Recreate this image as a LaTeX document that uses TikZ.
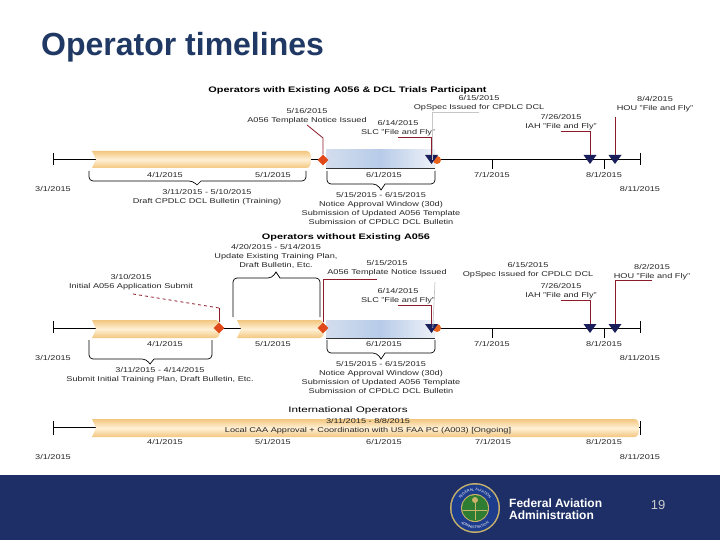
\documentclass[tikz,border=0pt]{standalone}
\usepackage{fontspec}
\setmainfont{Liberation Sans}
\usetikzlibrary{shapes.geometric,decorations.text}
\definecolor{navyband}{HTML}{1D2F66}
\definecolor{titleblue}{HTML}{1F3864}
\definecolor{tanedge}{HTML}{F2C67E}
\definecolor{tanmid}{HTML}{FFF1D6}
\definecolor{bluel}{HTML}{D3DEEE}
\definecolor{bluem}{HTML}{B7CBE8}
\definecolor{bluer}{HTML}{EEF2F8}
\definecolor{connred}{HTML}{8B1A2B}
\definecolor{trinavy}{HTML}{1A1F5C}
\definecolor{orangered}{HTML}{E2491A}
\definecolor{orangec}{HTML}{E8641E}
\definecolor{sealgold}{HTML}{C9B26A}
\definecolor{sealblue}{HTML}{1E3C8C}
\definecolor{sealgreen}{HTML}{2E7D32}
\newcommand{\sx}[1]{\scalebox{1.31}[1]{#1}}
\newcommand{\sxb}[1]{\scalebox{1.36}[1]{#1}}
% gold bar: x1 x2 ytop ybot
\newcommand{\goldbar}[4]{%
  \path[top color=tanedge,bottom color=tanedge,middle color=tanmid]
    (#1,#3) -- (#2-5,#3) .. controls (#2-1,#3) and (#2,#3+3) .. (#2,{(#3+#4)/2})
    .. controls (#2,#4-3) and (#2-1,#4) .. (#2-5,#4) -- (#1,#4)
    -- (#1+4,{(#3+#4)/2}) -- cycle;}
% blue bar: x1 x2 ytop ybot
\newcommand{\bluebar}[4]{%
  \path[left color=bluel,right color=bluer,middle color=bluem]
    (#1,#3) rectangle (#2,#4);
  \draw[black!80,line width=0.7pt] (#1,#4) -- (#2,#4);}
% brace: x1 x2 yfoot yspine xmid ytip
\newcommand{\curly}[6]{%
  \draw[bracel] (#1,#3) -- (#1,#4) -- (#5-4,#4) [sharp corners] -- (#5,#6) -- (#5+4,#4) [rounded corners=4pt] -- (#2,#4) -- (#2,#3);}
% down-pointing milestone: name x ytop
\newcommand{\downtri}[3]{%
  \coordinate (#1) at (#2,#3);
  \fill[trinavy] (#2-6.5,#3) -- (#2+6.5,#3) -- (#2,#3+9) -- cycle;}
\tikzset{
  lab/.style={font=\fontsize{7}{9}\selectfont,inner sep=0.5pt,align=center,text=black!85},
  head/.style={font=\fontsize{8}{9}\selectfont\bfseries,inner sep=0pt,text=black},
  axisline/.style={black,line width=1pt},
  axistick/.style={black,line width=0.8pt},
  conn/.style={connred,line width=0.8pt},
  connpale/.style={gray!45,line width=0.7pt},
  bracel/.style={black,line width=0.7pt,rounded corners=4pt},
  miled/.style={diamond,fill=orangered,minimum width=11pt,minimum height=11pt,inner sep=0pt},
  milec/.style={circle,fill=orangec,minimum size=8pt,inner sep=0pt},
}
\begin{document}
\begin{tikzpicture}[x=1pt,y=-1pt]
\useasboundingbox (0,0) rectangle (720,540);
\fill[white] (0,0) rectangle (720,540);
\node[anchor=base west,inner sep=0pt,text=titleblue,font=\fontsize{32}{34}\selectfont\bfseries] (slidetitle) at (41,56) {Operator timelines};

%% ---------- Timeline 1
\node[head] (h1) at (347.5,90) {\sxb{Operators with Existing A056 \& DCL Trials Participant}};
\coordinate (a1l) at (53,160); \coordinate (a1r) at (640,160);
\draw[axisline] (a1l) -- (a1r);
\draw[axistick] (53,153) -- (53,165);
\draw[axistick] (640,153) -- (640,165);
\draw[axistick] (492,160) -- (492,169);
\draw[axistick] (604,160) -- (604,169);
\goldbar{92}{311}{151}{168}
\bluebar{326}{435}{150}{168}
\curly{89}{306}{171}{181}{197}{185}
\curly{327}{435}{171}{184}{381}{190}
\node[lab] (d1a) at (165,174.5) {\sx{4/1/2015}};
\node[lab] (d1b) at (273,174.5) {\sx{5/1/2015}};
\node[lab] (d1c) at (384,174.5) {\sx{6/1/2015}};
\node[lab] (d1d) at (492,174.5) {\sx{7/1/2015}};
\node[lab] (d1e) at (604,174.5) {\sx{8/1/2015}};
\node[lab] (d1s) at (53,188.5) {\sx{3/1/2015}};
\node[lab] (d1f) at (640,188.5) {\sx{8/11/2015}};
\node[lab] (b1a) at (207,197) {\sx{3/11/2015 - 5/10/2015}\\\sx{Draft CPDLC DCL Bulletin (Training)}};
\node[lab] (b1b) at (381,208.5) {\sx{5/15/2015 - 6/15/2015}\\\sx{Notice Approval Window (30d)}\\\sx{Submission of Updated A056 Template}\\\sx{Submission of CPDLC DCL Bulletin}};
\node[lab] (n1a) at (307,116.5) {\sx{5/16/2015}\\\sx{A056 Template Notice Issued}};
\node[lab] (n1b) at (398,128.5) {\sx{6/14/2015}\\\sx{SLC "File and Fly"}};
\node[lab] (n1c) at (479,103.5) {\sx{6/15/2015}\\\sx{OpSpec Issued for CPDLC DCL}};
\node[lab] (n1d) at (561,122.5) {\sx{7/26/2015}\\\sx{IAH "File and Fly"}};
\node[lab] (n1e) at (655,104.5) {\sx{8/4/2015}\\\sx{HOU "File and Fly"}};
\node[milec] (m1o) at (437,160) {};
\downtri{m1s}{431.5}{155}
\downtri{m1i}{590}{155}
\downtri{m1h}{615}{155}
\node[miled] (m1a) at (323,160) {};
\coordinate (k1a) at (323,138);
\draw[conn] (n1a.south) -- (k1a) -- (m1a);
\draw[conn] (n1b.south) -| (m1s);
\draw[connpale] (n1c.south) -| (m1o.west);
\draw[conn] (n1d.south) -| (m1i);
\coordinate (c1h) at (615,117);
\draw[conn] (c1h) -- (m1h);

%% ---------- Timeline 2
\node[head] (h2) at (346,237) {\sxb{Operators without Existing A056}};
\coordinate (a2l) at (53,328); \coordinate (a2r) at (640,328);
\draw[axisline] (a2l) -- (a2r);
\draw[axistick] (53,321) -- (53,333);
\draw[axistick] (640,321) -- (640,333);
\draw[axistick] (492,328) -- (492,338);
\draw[axistick] (604,328) -- (604,338);
\goldbar{92}{220}{320}{338}
\goldbar{237}{324}{320}{338}
\bluebar{326}{435}{320}{338}
\curly{89}{212}{340}{359}{150}{364}
\curly{233}{320}{317}{278}{276}{272}
\curly{327}{435}{340}{353}{381}{359}
\node[lab] (d2a) at (165,343.5) {\sx{4/1/2015}};
\node[lab] (d2b) at (273,343.5) {\sx{5/1/2015}};
\node[lab] (d2c) at (384,343.5) {\sx{6/1/2015}};
\node[lab] (d2d) at (492,343.5) {\sx{7/1/2015}};
\node[lab] (d2e) at (604,343.5) {\sx{8/1/2015}};
\node[lab] (d2s) at (53,357.5) {\sx{3/1/2015}};
\node[lab] (d2f) at (640,357.5) {\sx{8/11/2015}};
\node[lab] (b2a) at (160,375.5) {\sx{3/11/2015 - 4/14/2015}\\\sx{Submit Initial Training Plan, Draft Bulletin, Etc.}};
\node[lab] (b2c) at (276,256.5) {\sx{4/20/2015 - 5/14/2015}\\\sx{Update Existing Training Plan,}\\\sx{Draft Bulletin, Etc.}};
\node[lab] (b2b) at (381,377.5) {\sx{5/15/2015 - 6/15/2015}\\\sx{Notice Approval Window (30d)}\\\sx{Submission of Updated A056 Template}\\\sx{Submission of CPDLC DCL Bulletin}};
\node[lab] (n2z) at (131,282.5) {\sx{3/10/2015}\\\sx{Initial A056 Application Submit}};
\node[lab] (n2a) at (387,268) {\sx{5/15/2015}\\\sx{A056 Template Notice Issued}};
\node[lab] (n2b) at (398,296.5) {\sx{6/14/2015}\\\sx{SLC "File and Fly"}};
\node[lab] (n2c) at (528,270.5) {\sx{6/15/2015}\\\sx{OpSpec Issued for CPDLC DCL}};
\node[lab] (n2d) at (561,291.5) {\sx{7/26/2015}\\\sx{IAH "File and Fly"}};
\node[lab] (n2e) at (652,272) {\sx{8/2/2015}\\\sx{HOU "File and Fly"}};
\node[milec] (m2o) at (437,328) {};
\downtri{m2s}{431.5}{324}
\downtri{m2i}{590}{324}
\downtri{m2h}{615}{324}
\node[miled] (m2z) at (219,328) {};
\node[miled] (m2a) at (323,328) {};
\coordinate (k2z) at (219,308);
\coordinate (s2z) at (133,294);
\draw[conn,dashed] (s2z) -- (k2z);
\draw[conn] (k2z) -- (m2z);
\coordinate (s2a) at (377,279);
\draw[conn] (s2a) -| (m2a);
\draw[conn] (n2b.south) -| (m2s);
\coordinate (s2o) at (435,282);
\draw[connpale] (s2o) -- (m2o.west);
\draw[conn] (n2d.south) -| (m2i);
\draw[conn] (n2e.south) -| (m2h);

%% ---------- Timeline 3
\node[head] (h3) at (348,410) {\scalebox{1.46}[1]{\mdseries International Operators}};
\coordinate (a3l) at (53,427.5); \coordinate (a3r) at (640,427.5);
\draw[axisline] (a3l) -- (a3r);
\draw[axistick] (53,421) -- (53,435);
\draw[axistick] (640,421) -- (640,435);
\goldbar{92}{639}{419}{437}
\node[lab] (b3) at (368,426.5) {\sx{3/11/2015 - 8/8/2015}\\\sx{Local CAA Approval + Coordination with US FAA PC (A003) [Ongoing]}};
\node[lab] (d3a) at (165,442) {\sx{4/1/2015}};
\node[lab] (d3b) at (273,442) {\sx{5/1/2015}};
\node[lab] (d3c) at (384,442) {\sx{6/1/2015}};
\node[lab] (d3d) at (493,442) {\sx{7/1/2015}};
\node[lab] (d3e) at (604,442) {\sx{8/1/2015}};
\node[lab] (d3s) at (53,457) {\sx{3/1/2015}};
\node[lab] (d3f) at (640,457) {\sx{8/11/2015}};

%% ---------- Footer
\fill[navyband] (0,475) rectangle (720,540);
\fill[sealgold] (475,508) circle[radius=25pt];
\fill[sealblue] (475,508) circle[radius=23.5pt];
\fill[sealgold] (475,508) circle[radius=14pt];
\fill[sealgreen] (475,508) circle[radius=13pt];
\fill[sealgold] (475,500) circle[radius=3pt];
\draw[sealgold,line width=1pt] (475,500) -- (475,520) (463,510) -- (487,510);
\path[decorate,decoration={text along path,text align=center,text={|\fontsize{3.6}{4}\selectfont\color{white}|FEDERAL AVIATION}}]
  (458,508) arc[start angle=180,end angle=0,radius=17pt];
\path[decorate,decoration={text along path,text align=center,text={|\fontsize{3.6}{4}\selectfont\color{white}|ADMINISTRATION}}]
  (454.5,508) arc[start angle=180,end angle=360,radius=20.5pt];
\node[anchor=base west,inner sep=0pt,text=white,font=\fontsize{12}{12}\selectfont\bfseries] (faa1) at (509,507) {Federal Aviation};
\node[anchor=base west,inner sep=0pt,text=white,font=\fontsize{12}{12}\selectfont\bfseries] (faa2) at (509,519) {Administration};
\node[text=gray!40!white,inner sep=0pt,font=\fontsize{13}{13}\selectfont] (pgno) at (658,505) {19};
\end{tikzpicture}
\end{document}
